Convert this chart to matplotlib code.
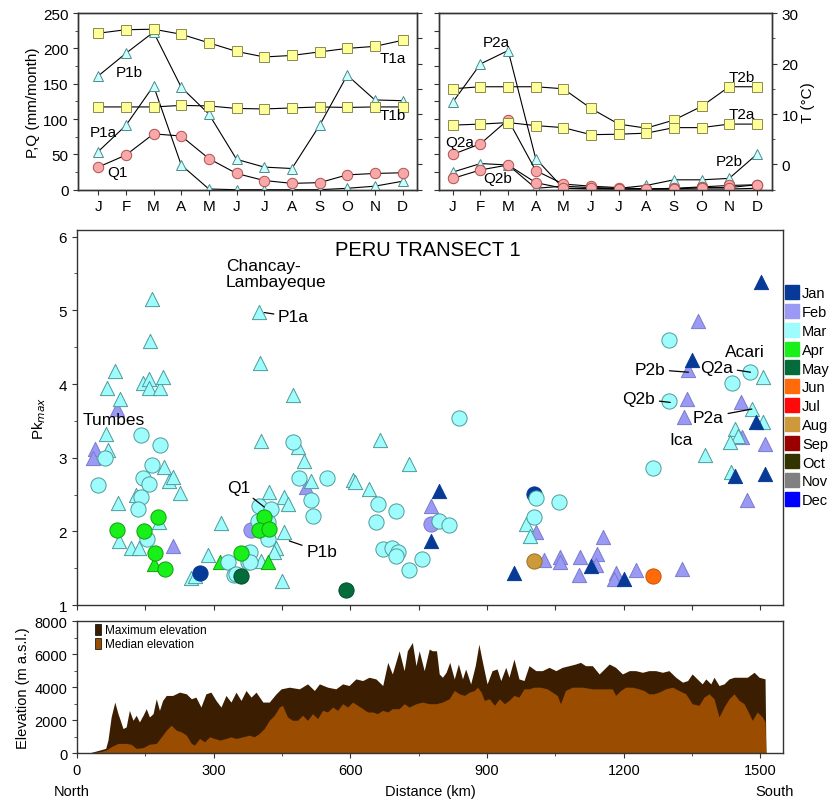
import matplotlib
matplotlib.use("Agg")
import matplotlib.pyplot as plt
import numpy as np
from matplotlib.lines import Line2D
from matplotlib.patches import Patch
from matplotlib.ticker import MultipleLocator

plt.rcParams["font.family"] = ["Liberation Sans", "DejaVu Sans"]

# ── monthly climate / discharge (top panels) ──────────────────────────
month_lbl = ["J", "F", "M", "A", "M", "J", "J", "A", "S", "O", "N", "D"]

p1a = [54, 91, 147, 35, 1, 0, 0, 0, 0, 2, 5, 12]
p1b = [161, 193, 223, 145, 107, 43, 32, 30, 91, 162, 127, 126]
q1 = [32, 49, 79, 76, 44, 23, 13, 9, 10, 21, 23, 24]
t1a = [26.0, 26.7, 26.8, 25.8, 24.1, 22.4, 21.3, 21.6, 22.3, 23.0, 23.4, 24.6]
t1b = [11.4, 11.4, 11.4, 11.7, 11.6, 11.1, 11.0, 11.2, 11.4, 11.3, 11.4, 11.4]

p2a = [124, 178, 197, 44, 2, 1, 1, 1, 1, 1, 1, 2]
p2b = [25, 37, 35, 2, 5, 3, 2, 6, 14, 14, 16, 50]
q2a = [50, 65, 99, 27, 8, 5, 3, 1, 2, 4, 6, 7]
q2b = [16, 28, 35, 10, 2, 2, 1, 1, 1, 3, 3, 7]
t2a = [7.8, 8.0, 8.3, 7.7, 7.3, 5.9, 6.0, 6.2, 7.3, 7.3, 8.0, 8.0]
t2b = [15.0, 15.4, 15.4, 15.4, 15.0, 11.1, 8.0, 7.2, 8.8, 11.5, 15.4, 15.4]

# ── Pk_max along the transect (month index 0=Jan) ─────────────────────
tri_pts = [  # precipitation stations (km, Pk_max, month)
    (88, 3.66, 1), (40, 3.12, 1), (35, 2.99, 1), (210, 1.80, 1), (503, 2.60, 1),
    (778, 2.35, 1), (1008, 1.99, 1), (1026, 1.61, 1), (1061, 1.65, 1), (1061, 1.58, 1),
    (1105, 1.65, 1), (1102, 1.41, 1), (1142, 1.69, 1), (1138, 1.55, 1), (1154, 1.92, 1),
    (1182, 1.44, 1), (1178, 1.36, 1), (1227, 1.47, 1), (1327, 1.49, 1), (1363, 4.86, 1),
    (1341, 4.19, 1), (1339, 3.80, 1), (1332, 3.55, 1), (1458, 3.76, 1), (1460, 3.28, 1),
    (1509, 3.18, 1), (1470, 2.42, 1),
    (164, 5.16, 2), (161, 4.59, 2), (83, 4.18, 2), (67, 3.95, 2), (95, 3.80, 2),
    (146, 4.02, 2), (159, 4.07, 2), (157, 3.95, 2), (183, 3.95, 2), (188, 4.09, 2),
    (64, 3.32, 2), (69, 3.10, 2), (190, 2.88, 2), (203, 2.69, 2), (210, 2.74, 2),
    (226, 2.52, 2), (89, 2.39, 2), (130, 2.50, 2), (92, 1.87, 2), (119, 1.77, 2),
    (137, 1.77, 2), (181, 2.13, 2), (250, 1.37, 2), (258, 1.39, 2), (287, 1.68, 2),
    (317, 2.12, 2), (400, 4.98, 2), (402, 4.28, 2), (473, 3.85, 2), (404, 3.23, 2),
    (666, 3.24, 2), (729, 2.92, 2), (499, 2.96, 2), (486, 3.14, 2), (514, 2.68, 2),
    (605, 2.70, 2), (611, 2.67, 2), (640, 2.58, 2), (422, 2.53, 2), (455, 2.46, 2),
    (464, 2.37, 2), (455, 1.99, 2), (437, 1.78, 2), (433, 1.72, 2), (449, 1.33, 2),
    (404, 1.60, 2), (985, 2.10, 2), (994, 1.94, 2), (1505, 4.09, 2), (1481, 3.66, 2),
    (1505, 3.49, 2), (1445, 3.39, 2), (1450, 3.30, 2), (1434, 3.21, 2), (1379, 3.04, 2),
    (1436, 2.80, 2),
    (795, 2.55, 0), (778, 1.87, 0), (959, 1.44, 0), (1127, 1.53, 0), (1200, 1.35, 0),
    (1502, 5.39, 0), (1350, 4.33, 0), (1490, 3.49, 0), (1444, 2.75, 0), (1511, 2.78, 0),
    (168, 1.56, 3), (313, 1.58, 3), (419, 1.58, 3),
]
circ_pts = [  # discharge stations (km, Pk_max, month)
    (271, 1.43, 0), (1003, 2.51, 0),
    (382, 2.02, 1), (777, 2.10, 1),
    (140, 3.31, 2), (183, 3.17, 2), (61, 3.00, 2), (46, 2.63, 2), (164, 2.90, 2),
    (145, 2.73, 2), (157, 2.64, 2), (140, 2.46, 2), (135, 2.30, 2), (153, 1.90, 2),
    (331, 1.58, 2), (345, 1.41, 2), (375, 1.71, 2), (375, 1.59, 2), (400, 2.35, 2),
    (426, 2.30, 2), (397, 2.14, 2), (419, 2.13, 2), (408, 2.01, 2), (419, 1.90, 2),
    (379, 1.72, 2), (379, 1.58, 2), (349, 1.42, 2), (474, 3.21, 2), (487, 2.72, 2),
    (548, 2.72, 2), (514, 2.42, 2), (517, 2.21, 2), (660, 2.37, 2), (700, 2.27, 2),
    (656, 2.13, 2), (671, 1.76, 2), (691, 1.77, 2), (705, 1.72, 2), (700, 1.67, 2),
    (728, 1.47, 2), (757, 1.62, 2), (795, 2.14, 2), (816, 2.08, 2), (839, 3.54, 2),
    (1008, 2.45, 2), (1058, 2.40, 2), (1003, 2.20, 2), (1300, 4.60, 2), (1478, 4.16, 2),
    (1438, 4.01, 2), (1300, 3.77, 2), (1265, 2.86, 2),
    (88, 2.02, 3), (148, 2.01, 3), (177, 2.20, 3), (172, 1.71, 3), (194, 1.49, 3),
    (359, 1.70, 3), (411, 2.19, 3), (399, 2.02, 3), (422, 2.03, 3),
    (360, 1.40, 4), (590, 1.20, 4),
    (1264, 1.40, 5),
    (1003, 1.60, 7),
]

month_names = ["Jan", "Feb", "Mar", "Apr", "May", "Jun",
               "Jul", "Aug", "Sep", "Oct", "Nov", "Dec"]
month_colors = ["#063a96", "#9a9af5", "#9ffcfc", "#19f019", "#046b3a", "#ff6a0a",
                "#ff0a0a", "#cc9a3a", "#990000", "#333300", "#808080", "#0000ff"]
month_edges = ["#063a96", "#7a7ad0", "#4f9a9a", "#0fa00f", "#034d2a", "#c85000",
               "#c00000", "#9a7020", "#700000", "#222200", "#606060", "#0000aa"]

# ── elevation profile (km, m a.s.l.) ──────────────────────────────────
elev_max = [
    (0, 150), (3, 0), (30, 50), (50, 200), (63, 300), (68, 800), (75, 2200), (83, 3100),
    (90, 2400), (95, 2000), (101, 1500), (108, 1600), (115, 2600), (123, 2000), (130, 2300),
    (137, 1900), (145, 2300), (152, 2700), (159, 2200), (167, 2400), (174, 3300), (181, 2600),
    (188, 3200), (196, 3500), (210, 3500), (225, 3700), (240, 3600), (251, 3300), (261, 3400),
    (272, 2800), (283, 3600), (294, 3700), (305, 3200), (316, 2800), (327, 3500), (338, 3100),
    (349, 3700), (360, 3200), (371, 3800), (382, 3400), (393, 3700), (408, 3100), (422, 3100),
    (437, 3600), (448, 3900), (466, 4000), (488, 3900), (506, 4200), (521, 3800), (532, 4200),
    (550, 4000), (568, 3900), (583, 4200), (597, 4100), (612, 4500), (627, 4400), (641, 4600),
    (656, 4500), (671, 4100), (682, 5500), (692, 4800), (707, 6200), (718, 5000), (725, 6200),
    (736, 6700), (744, 5300), (751, 6200), (762, 5000), (773, 6300), (780, 6200), (789, 6200),
    (795, 4800), (802, 4600), (810, 4900), (818, 5500), (828, 4500), (837, 5400), (846, 4500),
    (853, 5100), (864, 4200), (874, 5300), (882, 6600), (890, 5500), (900, 4200), (911, 5000),
    (922, 5100), (930, 4400), (941, 5200), (948, 4600), (959, 5700), (970, 4500), (981, 4400),
    (992, 5300), (1007, 5000), (1021, 5000), (1036, 5200), (1051, 5000), (1065, 5200),
    (1080, 5300), (1094, 5400), (1105, 5500), (1116, 5300), (1131, 5300), (1146, 4800),
    (1157, 5100), (1168, 5400), (1182, 5200), (1197, 4800), (1212, 5000), (1226, 5000),
    (1241, 4900), (1255, 5000), (1270, 5000), (1285, 4900), (1299, 5000), (1314, 4600),
    (1329, 4300), (1340, 4400), (1350, 4800), (1361, 4500), (1372, 4200), (1380, 4500),
    (1391, 4200), (1398, 4600), (1409, 4100), (1420, 4200), (1431, 4500), (1442, 4600),
    (1456, 4600), (1471, 4600), (1486, 4900), (1497, 4600), (1510, 4500), (1512, 0),
]
elev_med = [
    (0, 100), (3, 0), (35, 50), (50, 100), (64, 200), (75, 400), (90, 600), (108, 600),
    (119, 550), (130, 300), (145, 350), (159, 550), (174, 600), (188, 1100), (196, 1400),
    (207, 1700), (218, 1400), (229, 1300), (240, 1100), (251, 600), (258, 500), (269, 900),
    (280, 700), (291, 1000), (302, 900), (313, 800), (327, 900), (338, 1000), (349, 900),
    (364, 1000), (378, 1100), (389, 1000), (400, 1200), (411, 1500), (422, 2000), (433, 2300),
    (444, 2800), (451, 2900), (462, 2200), (473, 2000), (484, 2000), (495, 2300), (506, 2000),
    (517, 2400), (528, 2100), (539, 2600), (550, 2500), (561, 2800), (572, 2600), (583, 3000),
    (594, 2800), (605, 3100), (616, 2900), (627, 2700), (638, 2500), (649, 2500), (659, 2400),
    (671, 2600), (682, 2500), (692, 2700), (707, 2700), (718, 3000), (729, 2800), (744, 3000),
    (758, 3100), (773, 3000), (788, 3000), (802, 3100), (817, 3300), (828, 3800), (839, 3600),
    (850, 3500), (861, 3700), (872, 3800), (879, 4000), (887, 3700), (894, 3200), (905, 3300),
    (916, 2900), (927, 3300), (938, 3000), (948, 3200), (959, 3500), (970, 3400), (981, 3900),
    (992, 3900), (1003, 4000), (1017, 4000), (1032, 3900), (1043, 3700), (1054, 3500),
    (1061, 3000), (1072, 3800), (1087, 4000), (1109, 4000), (1131, 3900), (1153, 3900),
    (1175, 3900), (1182, 3500), (1193, 3800), (1204, 4000), (1219, 4000), (1233, 3900),
    (1244, 3800), (1255, 3600), (1266, 3600), (1277, 3700), (1292, 3900), (1307, 4000),
    (1321, 3800), (1336, 3600), (1350, 3000), (1365, 2900), (1376, 3400), (1387, 3600),
    (1398, 3300), (1409, 2200), (1420, 2800), (1431, 3300), (1442, 3600), (1453, 3200),
    (1464, 3000), (1475, 2400), (1482, 2000), (1493, 2500), (1504, 2200), (1510, 1900),
    (1512, 0),
]

SQ = dict(marker="s", ms=7.5, mfc="#ffff99", mec="#8a8a50", mew=0.7)
TR = dict(marker="^", ms=7.5, mfc="#ccffff", mec="#4f8a8a", mew=0.7)
CI = dict(marker="o", ms=7.5, mfc="#f8a8a8", mec="#b05050", mew=0.7)
LINE = dict(color="black", lw=0.8)
SPINE = "#333333"


def style_axes(ax):
    for s in ax.spines.values():
        s.set_color(SPINE)
        s.set_linewidth(1.0)
    ax.tick_params(which="both", direction="out", colors=SPINE, labelcolor="black")


fig = plt.figure(figsize=(8.33, 8.03), dpi=100)
x = np.arange(12)

# ── top-left panel ─────────────────────────────────────────────────────
axl = fig.add_axes([0.0940, 0.7625, 0.4062, 0.2200])
axlt = axl.twinx()
axl.plot(x, p1b, **LINE, **TR, zorder=3)
axl.plot(x, p1a, **LINE, **TR, zorder=3)
axl.plot(x, q1, **LINE, **CI, zorder=3)
axlt.plot(x, t1a, **LINE, **SQ)
axlt.plot(x, t1b, **LINE, **SQ)
axl.set_xlim(-0.72, 11.51)
axl.set_ylim(0, 250)
axlt.set_ylim(-5, 30)
axl.yaxis.set_major_locator(MultipleLocator(50))
axl.yaxis.set_minor_locator(MultipleLocator(25))
axlt.yaxis.set_major_locator(MultipleLocator(5))
axlt.set_yticklabels([])
axl.set_xticks(x)
axl.set_xticklabels(month_lbl, fontsize=11)
axl.tick_params(axis="y", labelsize=11)
axl.set_ylabel("P,Q (mm/month)", fontsize=11, labelpad=2)
for a in (axl, axlt):
    style_axes(a)
axlt.text(1.11, 167, "P1b", fontsize=11, ha="center", va="center",
          transform=axl.transData)
axlt.text(0.18, 82, "P1a", fontsize=11, ha="center", va="center",
          transform=axl.transData)
axlt.text(0.70, 25.5, "Q1", fontsize=11, ha="center", va="center",
          transform=axl.transData)
axlt.text(10.66, 186, "T1a", fontsize=11, ha="center", va="center",
          transform=axl.transData)
axlt.text(10.66, 106, "T1b", fontsize=11, ha="center", va="center",
          transform=axl.transData)

# ── top-right panel ────────────────────────────────────────────────────
axr = fig.add_axes([0.5274, 0.7625, 0.3990, 0.2200])
axrt = axr.twinx()
axr.plot(x, p2a, **LINE, **TR, zorder=3)
axr.plot(x, p2b, **LINE, **TR, zorder=3)
axr.plot(x, q2a, **LINE, **CI, zorder=3)
axr.plot(x, q2b, **LINE, **CI, zorder=3)
axrt.plot(x, t2b, **LINE, **SQ)
axrt.plot(x, t2a, **LINE, **SQ)
axr.set_xlim(-0.49, 11.54)
axr.set_ylim(0, 250)
axrt.set_ylim(-5, 30)
axr.yaxis.set_major_locator(MultipleLocator(25))
axr.set_yticklabels([])
axrt.yaxis.set_major_locator(MultipleLocator(10))
axrt.yaxis.set_minor_locator(MultipleLocator(5))
axrt.tick_params(axis="y", labelsize=11)
axrt.set_ylabel("T (°C)", fontsize=11, labelpad=2)
axr.set_xticks(x)
axr.set_xticklabels(month_lbl, fontsize=11)
for a in (axr, axrt):
    style_axes(a)
for lbl, xx, yy in [("P2a", 1.59, 209), ("Q2a", 0.24, 67), ("Q2b", 1.61, 16),
                    ("T2b", 10.46, 160), ("T2a", 10.46, 107), ("P2b", 10.0, 40)]:
    axrt.text(xx, yy, lbl, fontsize=11, ha="center", va="center",
              transform=axr.transData)

# ── Pk_max scatter ─────────────────────────────────────────────────────
axs = fig.add_axes([0.0924, 0.2453, 0.8479, 0.4670])
tri = np.array(tri_pts)
circ = np.array(circ_pts)
for m in [1, 2, 0, 3]:
    sel = tri[:, 2] == m
    axs.scatter(tri[sel, 0], tri[sel, 1], marker="^", s=105,
                c=month_colors[m], edgecolors=month_edges[m], linewidths=0.7, zorder=3)
for m in [0, 1, 2, 3, 4, 5, 7]:
    sel = circ[:, 2] == m
    axs.scatter(circ[sel, 0], circ[sel, 1], marker="o", s=120,
                c=month_colors[m], edgecolors=month_edges[m], linewidths=0.7, zorder=4)
axs.set_xlim(0, 1550)
axs.set_ylim(1, 6.09)
axs.xaxis.set_major_locator(MultipleLocator(150))
axs.set_xticklabels([])
axs.yaxis.set_major_locator(MultipleLocator(1))
axs.yaxis.set_minor_locator(MultipleLocator(0.5))
axs.tick_params(axis="y", labelsize=11)
axs.set_ylabel("Pk$_{max}$", fontsize=11, labelpad=8)
style_axes(axs)

axs.text(0.4965, 0.949, "PERU TRANSECT 1", transform=axs.transAxes,
         fontsize=14.5, ha="center", va="center")
axs.text(327, 5.50, "Chancay-\nLambayeque", fontsize=12.5, ha="left", va="center",
         linespacing=1.05)
axs.text(13, 3.52, "Tumbes", fontsize=12.5, ha="left", va="center")
axs.text(1423, 4.44, "Acari", fontsize=12.5, ha="left", va="center")
axs.text(1299, 3.25, "Ica", fontsize=12.5, ha="left", va="center")
lead = dict(arrowstyle="-", lw=0.9, color="black", shrinkA=1, shrinkB=0)
for lbl, xy, xyt, ha in [("P1a", (411, 4.97), (441, 4.91), "left"),
                         ("Q1", (411, 2.33), (330, 2.60), "left"),
                         ("P1b", (466, 1.87), (503, 1.72), "left"),
                         ("P2b", (1342, 4.16), (1291, 4.20), "right"),
                         ("Q2a", (1478, 4.16), (1368, 4.23), "left"),
                         ("Q2b", (1302, 3.75), (1269, 3.80), "right"),
                         ("P2a", (1481, 3.66), (1352, 3.55), "left")]:
    axs.annotate(lbl, xy=xy, xytext=xyt, fontsize=12.5, ha=ha, va="center",
                 arrowprops=lead, zorder=6)

handles = [Line2D([], [], ls="none", marker="s", ms=9.5, mfc=c, mec=c)
           for c in month_colors]
axs.legend(handles, month_names, loc="upper left", bbox_to_anchor=(1.005, 0.85),
           frameon=False, fontsize=10.5, handlelength=0.7, handletextpad=0.35,
           labelspacing=0.33, borderaxespad=0, borderpad=0)

# ── elevation profile ──────────────────────────────────────────────────
axe = fig.add_axes([0.0924, 0.0606, 0.8479, 0.1648])
emx = np.array(elev_max)
emd = np.array(elev_med)
axe.fill_between(emx[:, 0], 0, emx[:, 1], color="#3b1e02", lw=0)
axe.fill_between(emd[:, 0], 0, emd[:, 1], color="#9a4c00", lw=0)
axe.set_xlim(0, 1550)
axe.set_ylim(0, 8000)
axe.xaxis.set_major_locator(MultipleLocator(300))
axe.xaxis.set_minor_locator(MultipleLocator(150))
axe.yaxis.set_major_locator(MultipleLocator(2000))
axe.yaxis.set_minor_locator(MultipleLocator(1000))
axe.tick_params(labelsize=10.5)
axe.set_ylabel("Elevation (m a.s.l.)", fontsize=10.5, labelpad=3)
axe.set_xlabel("Distance (km)", fontsize=10.5, labelpad=5)
style_axes(axe)
xt = axe.get_xaxis_transform()
axe.text(-12, -0.285, "North", transform=xt, fontsize=10.5, ha="center", va="center")
axe.text(1530, -0.285, "South", transform=xt, fontsize=10.5, ha="center", va="center")
leg_e = [Patch(facecolor="#3b1e02", edgecolor="black", lw=0.5),
         Patch(facecolor="#9a4c00", edgecolor="black", lw=0.5)]
axe.legend(leg_e, ["Maximum elevation", "Median elevation"], loc="upper left",
           bbox_to_anchor=(0.025, 0.98), frameon=False, fontsize=8.5,
           handlelength=0.55, handleheight=1.1, handletextpad=0.3,
           labelspacing=0.1, borderaxespad=0, borderpad=0)

fig.savefig("out.png", dpi=100)
